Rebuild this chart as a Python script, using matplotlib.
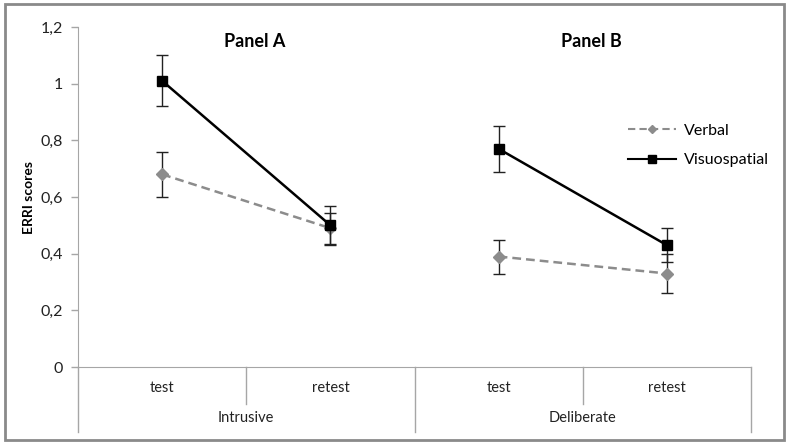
import matplotlib
matplotlib.use("Agg")
import matplotlib.pyplot as plt
from matplotlib.lines import Line2D
from matplotlib.patches import Rectangle

plt.rcParams['font.family'] = ['Lato', 'DejaVu Sans']

# data
panels = ["Intrusive", "Deliberate"]
phases = ["test", "retest"]
verbal = [[0.68, 0.49], [0.39, 0.33]]
verbal_err = [[0.08, 0.055], [0.06, 0.07]]
visuo = [[1.01, 0.50], [0.77, 0.43]]
visuo_err = [[0.09, 0.07], [0.08, 0.06]]
panel_titles = ["Panel A", "Panel B"]
yticks = [0, 0.2, 0.4, 0.6, 0.8, 1.0, 1.2]

axis_grey = "#a6a6a6"
verbal_grey = "#8c8c8c"
verbal_ls = (0, (3.5, 2))

fig = plt.figure(figsize=(7.89, 4.44), dpi=100)
ax = fig.add_axes([0.0989, 0.1734, 0.853, 0.7658])

n = len(phases)
for i, panel in enumerate(panels):
    xs = [i * n + j for j in range(n)]
    ax.errorbar(xs, verbal[i], yerr=verbal_err[i], color=verbal_grey,
                ls=verbal_ls, lw=1.8, marker="D", ms=6,
                mfc=verbal_grey, mec=verbal_grey, ecolor="#222222",
                elinewidth=1, capsize=4, capthick=1, zorder=3)
    ax.errorbar(xs, visuo[i], yerr=visuo_err[i], color="black",
                ls="-", lw=1.8, marker="s", ms=7.5, ecolor="#222222",
                elinewidth=1, capsize=4, capthick=1, zorder=4)
    ax.text(i * n + (n - 1) / 2 + 0.05, 1.15, panel_titles[i],
            ha="center", va="center", fontsize=13, fontweight="bold")

ax.set_xlim(-0.5, len(panels) * n - 0.5)
ax.set_ylim(0, 1.2)
ax.set_yticks(yticks)
ax.set_yticklabels([("%g" % v).replace(".", ",") for v in yticks])
ax.tick_params(axis="y", colors=axis_grey, labelcolor="#222222",
               labelsize=11.5, length=5, width=1, pad=6)
ax.set_xticks([])
ax.set_ylabel("ERRI scores", fontsize=10, fontweight="bold", labelpad=4)

for s in ["top", "right"]:
    ax.spines[s].set_visible(False)
ax.spines["left"].set_color(axis_grey)
ax.spines["bottom"].set_color(axis_grey)
ax.spines["left"].set_bounds(0, 1.2)

# multi-level category axis
tr = ax.get_xaxis_transform()
low = -0.19
mid = -0.11
for k in range(len(panels) * n + 1):
    x = k - 0.5
    bottom = low if k % n == 0 else mid
    ax.plot([x, x], [0, bottom], transform=tr, color=axis_grey, lw=1,
            clip_on=False)
for i, panel in enumerate(panels):
    for j, ph in enumerate(phases):
        ax.text(i * n + j, -0.062, ph, transform=tr, ha="center",
                va="center", fontsize=10.5, color="#222222")
    ax.text(i * n + (n - 1) / 2, -0.15, panel, transform=tr, ha="center",
            va="center", fontsize=10.5, color="#222222")

handles = [
    Line2D([], [], color=verbal_grey, ls=verbal_ls, lw=1.5, marker="D",
           ms=4.5, mfc=verbal_grey, mec=verbal_grey),
    Line2D([], [], color="black", lw=1.5, marker="s", ms=6),
]
fig.legend(handles, ["Verbal", "Visuospatial"], loc="center left",
           bbox_to_anchor=(0.796, 0.672), frameon=False, fontsize=11.5,
           handlelength=3.0, handletextpad=0.5, labelspacing=0.95,
           borderpad=0, borderaxespad=0)

fig.patches.append(Rectangle((0.006, 0.008), 0.988, 0.984,
                             transform=fig.transFigure, fill=False,
                             edgecolor="#8a8a8a", lw=2))

fig.savefig("out.png", dpi=100)
